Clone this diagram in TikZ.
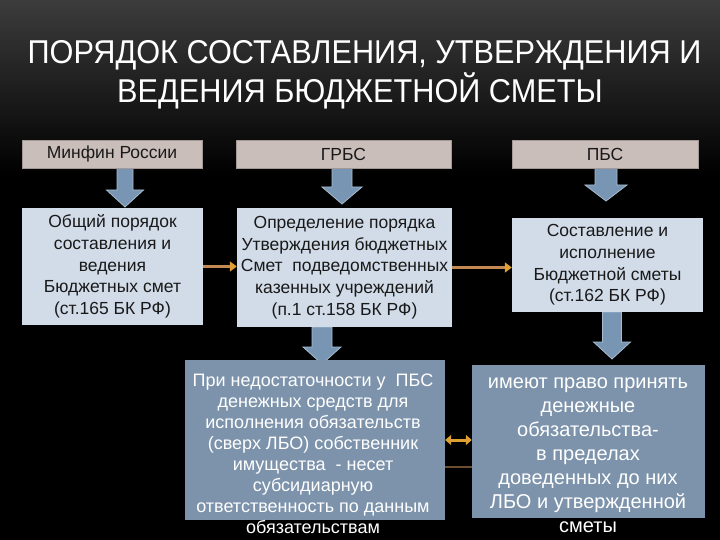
\documentclass[tikz,border=0pt]{standalone}
\usepackage{fontspec}
\setmainfont{Liberation Sans}
\newfontfamily\titlefont[FakeStretch=0.93]{Liberation Sans}
\usetikzlibrary{arrows.meta,calc}
\definecolor{hdrfill}{RGB}{202,190,186}
\definecolor{midfill}{RGB}{210,220,233}
\definecolor{lowfill}{RGB}{124,147,171}
\definecolor{arrfill}{RGB}{120,150,180}
\definecolor{arredge}{RGB}{168,188,208}
\definecolor{orline}{RGB}{194,138,82}
\definecolor{orhead}{RGB}{222,160,50}
\definecolor{bgtop}{RGB}{60,60,60}
\newcommand\blkarrow[6]{%
  \filldraw[blockarr] ({#1-#5},#2) -- ({#1+#5},#2) -- ({#1+#5},#3) -- ({#1+#6},#3)
    -- (#1,#4) -- ({#1-#6},#3) -- ({#1-#5},#3) -- cycle;}
\begin{document}
\begin{tikzpicture}[x=1pt,y=-1pt,
  title/.style={text=white,font=\titlefont\fontsize{33}{36}\selectfont,inner sep=0pt},
  hdr/.style={fill=hdrfill,draw=hdrfill!80!black,line width=0.5pt,inner sep=0pt,
    font=\fontsize{17.5}{19}\selectfont,text=black!90},
  mid/.style={fill=midfill,inner sep=0pt,align=center,
    font=\fontsize{17.5}{21.7}\selectfont,text=black!90},
  low/.style={fill=lowfill,inner sep=0pt},
  lowtxt/.style={align=center,inner sep=0pt,text=white},
  blockarr/.style={fill=arrfill,draw=arredge,line width=0.8pt,line join=miter},
  orarrow/.style={draw=orline,line width=3pt,-{Triangle[length=7pt,width=10pt,color=orhead]}},
  dblarrow/.style={draw=orhead,line width=3pt,{Triangle[length=6pt,width=10pt]}-{Triangle[length=6pt,width=10pt]}},
  faint/.style={draw=orline!70!black,line width=2pt,opacity=0.8}]
\useasboundingbox (0,0) rectangle (720,540);
\fill[black] (0,0) rectangle (720,540);
\shade[top color=bgtop,bottom color=black] (0,0) rectangle (720,175);

\node[title] (t1) at (364.5,55.5) {ПОРЯДОК СОСТАВЛЕНИЯ, УТВЕРЖДЕНИЯ И};
\node[title] (t2) at (360,91) {ВЕДЕНИЯ БЮДЖЕТНОЙ СМЕТЫ};

% block arrows (drawn first, boxes on top)
\blkarrow{125}{168}{190}{207}{8}{18.5}
\blkarrow{342}{168}{187}{204}{10}{20}
\blkarrow{606}{168}{185}{201}{11}{21}
\blkarrow{322}{327}{347}{364}{10}{19}
\blkarrow{612}{312}{342}{359}{9.5}{18.5}

% header row
\node[hdr,minimum width=180pt,minimum height=28pt] (h1) at (112,154) {Минфин России};
\node[hdr,minimum width=215pt,minimum height=28pt] (h2) at (343.5,154) {ГРБС};
\node[hdr,minimum width=186pt,minimum height=28pt] (h3) at (605,154) {ПБС};

% middle row
\node[mid,minimum width=181pt,minimum height=117pt] (b1) at (112.5,266.5)
  {Общий порядок\\составления и\\ведения\\Бюджетных смет\\(ст.165 БК РФ)};
\node[mid,minimum width=215pt,minimum height=119pt] (b2) at (344.5,267.5)
  {Определение порядка\\Утверждения бюджетных\\Смет\ \ подведомственных\\казенных учреждений\\(п.1 ст.158 БК РФ)};
\node[mid,minimum width=191pt,minimum height=94pt] (b3) at (607.5,265)
  {Составление и\\исполнение\\Бюджетной сметы\\(ст.162 БК РФ)};

% lower row
\node[low,minimum width=260pt,minimum height=160pt] (c1) at (315,440) {};
\node[low,minimum width=233pt,minimum height=153pt] (c2) at (588.5,441.5) {};
\node[lowtxt,font=\fontsize{18}{21}\selectfont] (c1t) at (313,454)
  {При недостаточности у\ \ ПБС\\денежных средств для\\исполнения обязательств\\(сверх ЛБО) собственник\\имущества\ \ - несет\\субсидиарную\\ответственность по данным\\обязательствам};
\node[lowtxt,font=\fontsize{20}{24}\selectfont] (c2t) at (588,455)
  {имеют право принять\\денежные\\обязательства-\\в пределах\\доведенных до них\\ЛБО и утвержденной\\сметы};

% connectors
\draw[orarrow] (b1.east) -- (b1.east -| b2.west);
\draw[orarrow] (b2.east) -- (b2.east -| b3.west);
\draw[dblarrow] (c1.east) -- (c1.east -| c2.west);
\draw[faint] ([yshift=-27pt]c1.east) -- ([yshift=-27pt]c1.east -| c2.west);
\end{tikzpicture}
\end{document}
